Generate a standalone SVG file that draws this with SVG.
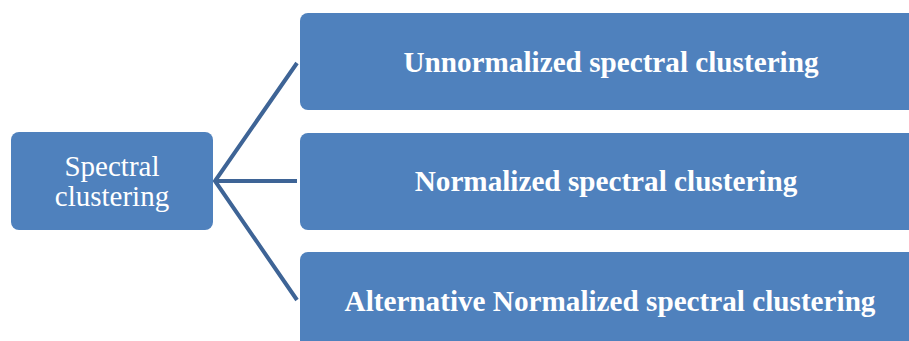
<svg xmlns="http://www.w3.org/2000/svg" width="909" height="341" viewBox="0 0 909 341">
<style>
.box{fill:#4f81bd;}
.lbl{fill:#fff;font-family:"Liberation Serif",serif;text-anchor:middle;}
.big{font-size:29.2px;font-weight:bold;}
.small{font-size:29px;}
.conn{stroke:#3e6496;stroke-width:4;fill:none;}
</style>
<rect width="909" height="341" fill="#fff"/>
<g id="connectors">
<path class="conn" d="M297,63 L215,181 L297,300"/>
<path class="conn" d="M215,181 L297,181"/>
</g>
<g id="root">
<rect class="box" x="11" y="132" width="202" height="98" rx="8"/>
<text class="lbl small" x="112" y="176">Spectral</text>
<text class="lbl small" x="112" y="206">clustering</text>
</g>
<g id="n1">
<rect class="box" x="300" y="13" width="620" height="97" rx="8"/>
<text class="lbl big" x="611" y="72">Unnormalized spectral clustering</text>
</g>
<g id="n2">
<rect class="box" x="300" y="133" width="620" height="97" rx="8"/>
<text class="lbl big" x="606" y="191">Normalized spectral clustering</text>
</g>
<g id="n3">
<rect class="box" x="300" y="252" width="620" height="97" rx="8"/>
<text class="lbl big" x="610" y="311">Alternative Normalized spectral clustering</text>
</g>
</svg>
